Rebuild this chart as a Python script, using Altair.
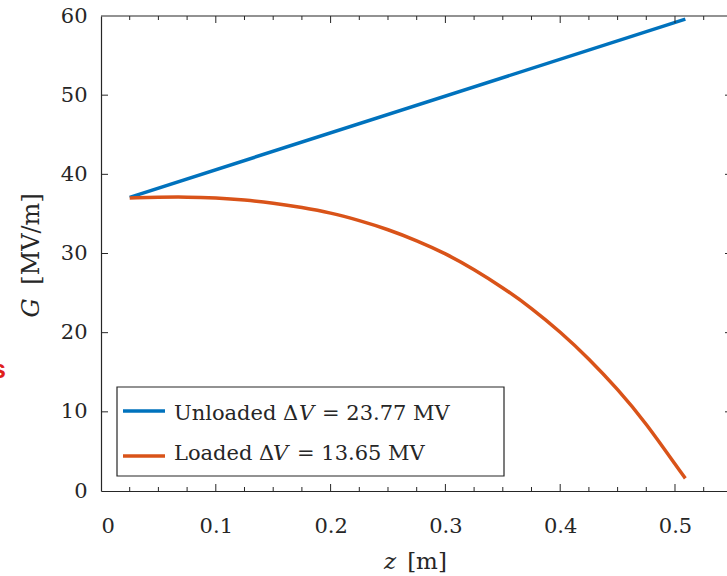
import altair as alt
import pandas as pd

# Field gradient along the structure, unloaded vs. beam-loaded
z_unloaded = [0.025, 0.509]
g_unloaded = [37.1, 59.6]

z_loaded = [0.025, 0.05, 0.075, 0.10, 0.125, 0.15, 0.175, 0.20, 0.225, 0.25,
            0.275, 0.30, 0.325, 0.35, 0.375, 0.40, 0.425, 0.45, 0.475, 0.50, 0.509]
g_loaded = [37.0, 37.1, 37.12, 37.0, 36.75, 36.35, 35.8, 35.1, 34.15, 33.0,
            31.6, 29.95, 27.95, 25.65, 23.05, 20.05, 16.65, 12.8, 8.4, 3.4, 1.6]

series_names = ["Unloaded", "Loaded"]
series_colors = ["#0072BD", "#D95319"]
delta_v = ["23.77", "13.65"]

x_major = [0.1, 0.2, 0.3, 0.4, 0.5]
x_minor = [0.025, 0.05, 0.075, 0.125, 0.15, 0.175, 0.225, 0.25, 0.275,
           0.325, 0.35, 0.375, 0.425, 0.45, 0.475, 0.525]
y_major = [10, 20, 30, 40, 50]

W, H = 626, 475
INK = "#262626"
SERIF = "DejaVu Serif"

curves = pd.DataFrame(
    [{"z": z, "G": g, "series": "Unloaded"} for z, g in zip(z_unloaded, g_unloaded)]
    + [{"z": z, "G": g, "series": "Loaded"} for z, g in zip(z_loaded, g_loaded)]
)

x_scale = alt.Scale(domain=[0, 0.5453], nice=False, zero=False)
y_scale = alt.Scale(domain=[0, 60], nice=False)

x_axis = alt.Axis(values=[0, 0.1, 0.2, 0.3, 0.4, 0.5],
                  labelExpr="datum.value == 0 ? '0' : format(datum.value, '.1f')",
                  ticks=False, grid=False, title=None, domainColor=INK, domainWidth=1.2,
                  labelFont=SERIF, labelFontSize=21, labelColor=INK, labelPadding=24)
y_axis = alt.Axis(values=[0, 10, 20, 30, 40, 50, 60], ticks=False, grid=False, title=None,
                  domainColor=INK, domainWidth=1.2, labelFont=SERIF, labelFontSize=21,
                  labelColor=INK, labelPadding=14, labelBaseline="middle")

color_enc = alt.Color("series:N", scale=alt.Scale(domain=series_names, range=series_colors), legend=None)

lines = alt.Chart(curves).mark_line(strokeWidth=3.5, interpolate="natural").encode(
    x=alt.X("z:Q", scale=x_scale, axis=x_axis),
    y=alt.Y("G:Q", scale=y_scale, axis=y_axis),
    color=color_enc,
    order=alt.Order("z:Q"),
)


def rules_x(values, y0, y1):
    return alt.Chart(pd.DataFrame({"v": values})).mark_rule(color=INK, strokeWidth=1).encode(
        x=alt.X("v:Q", scale=x_scale), y=alt.value(y0), y2=alt.value(y1))


def rules_y(values, x0, x1):
    return alt.Chart(pd.DataFrame({"v": values})).mark_rule(color=INK, strokeWidth=1).encode(
        y=alt.Y("v:Q", scale=y_scale), x=alt.value(x0), x2=alt.value(x1))


# inward-pointing tick marks on the frame edges
ticks = [
    rules_x(x_major, H, H - 7),
    rules_x(x_minor, H, H - 4),
    rules_x(x_major, 0, 7),
    rules_x(x_minor, 0, 4),
    rules_y(y_major, 0, 7),
    rules_y(y_major, W - 2, W),
]
top_frame = alt.Chart(pd.DataFrame({"a": [0]})).mark_rule(color=INK, strokeWidth=1.2).encode(
    x=alt.value(0), x2=alt.value(W), y=alt.value(0))

# legend box
legend_box = alt.Chart(pd.DataFrame({"a": [0]})).mark_rect(fill="white", stroke=INK, strokeWidth=1.2).encode(
    x=alt.value(16), x2=alt.value(403), y=alt.value(371), y2=alt.value(460))
leg_lines = pd.DataFrame({"series": series_names, "ypos": [395, 440]})
legend_swatches = alt.Chart(leg_lines).mark_rule(strokeWidth=3.5).encode(
    x=alt.value(22), x2=alt.value(64),
    y=alt.Y("ypos:Q", scale=None),
    color=color_enc,
)


def txt(text, x, y, italic=False, size=21, align="left", angle=0, baseline="alphabetic",
        font=SERIF, color=INK, weight="normal"):
    kw = dict(text=text, font=font, fontSize=size, color=color, align=align,
              baseline=baseline, fontWeight=weight)
    if italic:
        kw["fontStyle"] = "italic"
    if angle:
        kw["angle"] = angle
    return alt.Chart(pd.DataFrame({"a": [0]})).mark_text(**kw).encode(
        x=alt.value(x), y=alt.value(y))


legend_text = [
    txt("Unloaded \u0394", 73, 404),
    txt("V", 198, 404, italic=True),
    txt("= " + delta_v[0] + " MV", 221, 404),
    txt("Loaded \u0394", 73, 444),
    txt("V", 172, 444, italic=True),
    txt("= " + delta_v[1] + " MV", 196, 444),
]

titles = [
    txt("[MV/m]", -69, 223, size=24, align="center", angle=270, baseline="middle"),
    txt("G", -69, 292, italic=True, size=24, align="center", angle=270, baseline="middle"),
    txt("z", 289, 553, italic=True, size=23, align="center"),
    txt("[m]", 326, 553, size=23, align="center"),
    txt("s", -95, 362, size=26, align="right", font="Liberation Sans", color="#e0201b", weight="bold"),
]

chart = alt.layer(
    lines, *ticks, top_frame,
    legend_box, legend_swatches, *legend_text, *titles,
).properties(
    width=W, height=H,
    autosize=alt.AutoSizeParams(type="none"),
    padding={"left": 101, "top": 16, "right": 0, "bottom": 85},
    background="white",
).configure_view(stroke=None)

chart.save("out.html", embed_options={"renderer": "svg", "actions": False})
